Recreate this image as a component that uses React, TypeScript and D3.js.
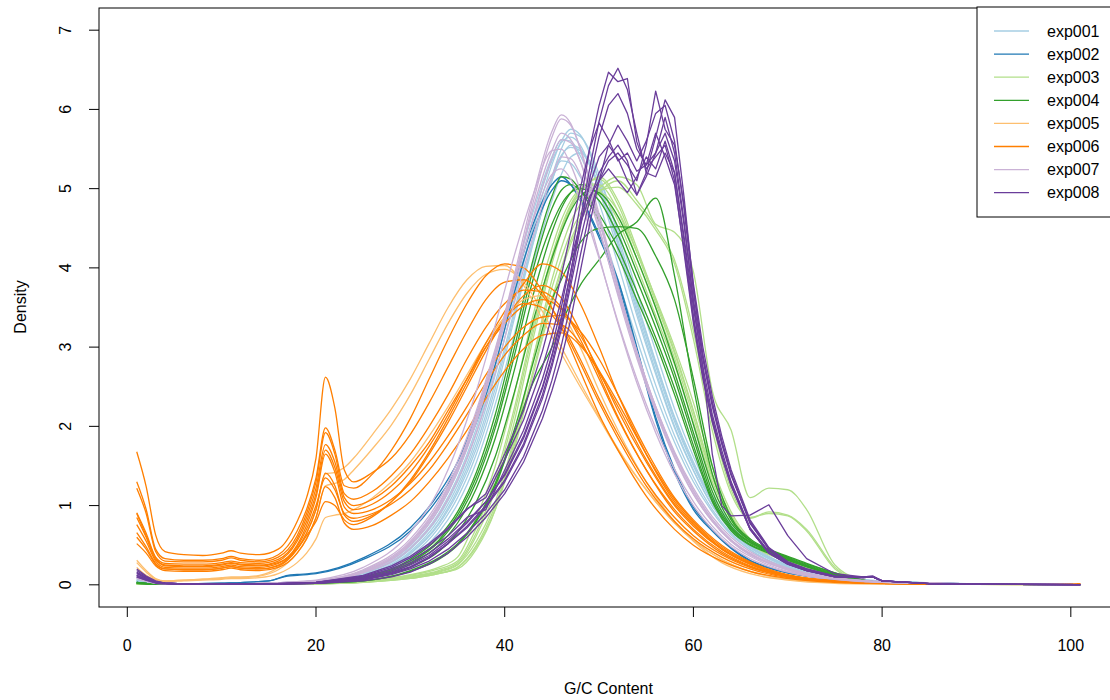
import React from "react";
import * as d3 from "d3";

// ---------- data ----------
const expNames = ["exp001", "exp002", "exp003", "exp004", "exp005", "exp006", "exp007", "exp008"];
const expColors = ["#A6CEE3", "#1F78B4", "#B2DF8A", "#33A02C", "#FDBF6F", "#FF7F00", "#CAB2D6", "#6A3D9A"];
const xTicks = [0, 20, 40, 60, 80, 100];
const yTicks = [0, 1, 2, 3, 4, 5, 6, 7];

// G/C grid for the smooth experiments (001, 002, 003, 004, 007)
const gcSmooth = [1, 3, 5, 10, 15, 17, 18, 20, 25, 30, 33, 35, 37, 39, 41, 43, 45, 46, 47, 48, 49, 50, 52, 54, 56, 58, 60, 62, 64, 66, 68, 70, 72, 75, 78, 80, 85, 90, 101];
// G/C grid for the orange experiments (005, 006)
const gcOrange = [1, 2, 3, 4, 6, 8, 10, 11, 12, 14, 16, 18, 19, 20, 21, 22, 23, 24, 26, 28, 30, 32, 34, 36, 38, 40, 42, 44, 46, 48, 50, 52, 55, 58, 60, 63, 66, 70, 75, 80, 90, 101];
// G/C grid for exp008
const gcPurple = [1, 2, 3, 4, 6, 10, 15, 20, 25, 28, 30, 32, 34, 36, 38, 40, 42, 44, 45, 46, 47, 48, 49, 50, 51, 52, 53, 54, 55, 56, 57, 58, 59, 60, 61, 62, 63, 64, 66, 68, 70, 72, 75, 78, 79, 80, 85, 90, 101];

const exp001 = [
  [0.06,0.02,0.01,0.01,0.02, 0.025,0.03,0.04,0.13,0.42, 0.82,1.25,1.85,2.65,3.60, 4.50,5.30,5.60,5.75,5.68, 5.45,5.10,4.30,3.45,2.70, 2.00,1.45,1.00,0.68,0.47, 0.33,0.23,0.16,0.10,0.06, 0.045,0.025,0.012,0.004],
  [0.05,0.02,0.01,0.01,0.015, 0.02,0.025,0.035,0.11,0.36, 0.72,1.10,1.65,2.40,3.35, 4.30,5.15,5.50,5.70,5.66, 5.48,5.18,4.42,3.58,2.82, 2.12,1.55,1.08,0.74,0.50, 0.35,0.25,0.17,0.10,0.06, 0.045,0.025,0.012,0.004],
  [0.07,0.02,0.01,0.01,0.02, 0.03,0.035,0.05,0.16,0.50, 0.95,1.42,2.08,2.92,3.85, 4.70,5.40,5.62,5.60,5.42, 5.15,4.82,4.05,3.25,2.52, 1.88,1.36,0.95,0.65,0.45, 0.31,0.22,0.15,0.09,0.055, 0.04,0.02,0.01,0.004],
  [0.05,0.02,0.01,0.01,0.02, 0.025,0.03,0.04,0.12,0.40, 0.78,1.20,1.78,2.55,3.45, 4.35,5.10,5.40,5.55,5.50, 5.32,5.05,4.35,3.55,2.80, 2.10,1.52,1.06,0.72,0.49, 0.34,0.24,0.17,0.10,0.06, 0.045,0.025,0.012,0.004],
  [0.04,0.015,0.01,0.01,0.015, 0.02,0.025,0.03,0.10,0.33, 0.66,1.02,1.55,2.28,3.15, 4.05,4.85,5.18,5.40,5.45, 5.35,5.12,4.48,3.70,2.95, 2.22,1.62,1.13,0.77,0.52, 0.36,0.25,0.18,0.11,0.065, 0.05,0.028,0.013,0.004],
  [0.06,0.02,0.01,0.01,0.02, 0.03,0.035,0.05,0.15,0.47, 0.90,1.35,1.98,2.78,3.68, 4.50,5.15,5.35,5.32,5.15, 4.90,4.58,3.85,3.10,2.40, 1.80,1.30,0.92,0.63,0.44, 0.30,0.21,0.15,0.09,0.055, 0.04,0.02,0.01,0.004],
  [0.06,0.02,0.01,0.01,0.02, 0.025,0.03,0.045,0.14,0.45, 0.86,1.30,1.92,2.75,3.72, 4.62,5.35,5.58,5.65,5.55, 5.30,4.98,4.22,3.40,2.66, 1.98,1.44,1.00,0.69,0.47, 0.33,0.23,0.16,0.10,0.06, 0.045,0.025,0.012,0.004],
  [0.05,0.02,0.01,0.01,0.02, 0.025,0.03,0.04,0.12,0.39, 0.76,1.16,1.72,2.48,3.40, 4.32,5.10,5.42,5.52,5.48, 5.30,5.02,4.30,3.50,2.76, 2.06,1.50,1.04,0.71,0.48, 0.34,0.24,0.17,0.10,0.06, 0.045,0.025,0.012,0.004],
];

const exp002 = [
  [0.03,0.01,0.01,0.02,0.05, 0.12,0.13,0.15,0.34,0.72, 1.15,1.55,2.15,2.90,3.80, 4.55,5.05,5.15,5.05,4.85, 4.65,4.38,3.80,2.95,2.08, 1.42,0.95,0.68,0.46,0.30, 0.21,0.15,0.11,0.07,0.045, 0.035,0.02,0.01,0.003],
  [0.03,0.01,0.01,0.02,0.05, 0.11,0.12,0.14,0.32,0.68, 1.10,1.48,2.05,2.78,3.68, 4.45,4.98,5.10,5.05,4.88, 4.68,4.42,3.85,3.00,2.12, 1.46,0.98,0.70,0.47,0.31, 0.22,0.15,0.11,0.07,0.045, 0.035,0.02,0.01,0.003],
];

const exp003 = [
  [0.01,0.005,0.005,0.005,0.01, 0.01,0.01,0.015,0.04,0.10, 0.17,0.26,0.62,1.20,2.05, 3.10,4.05,4.45,4.75,4.95, 5.08,5.15,4.85,4.25,3.60, 2.95,2.20,1.40,0.88,0.55, 0.40,0.32,0.22,0.10,0.04, 0.025,0.012,0.006,0.002],
  [0.01,0.005,0.005,0.005,0.01, 0.01,0.012,0.018,0.05,0.13, 0.22,0.35,0.85,1.50,2.40, 3.40,4.25,4.60,4.85,5.00, 5.05,4.98,4.60,4.02,3.40, 2.78,2.05,1.30,0.82,0.52, 0.38,0.30,0.21,0.09,0.04, 0.02,0.01,0.005,0.002],
  [0.01,0.005,0.005,0.005,0.01, 0.01,0.01,0.012,0.03,0.08, 0.14,0.22,0.50,1.00,1.75, 2.70,3.60,4.00,4.35,4.62, 4.85,5.00,5.15,5.05,4.55, 4.45,3.95,2.45,1.95,1.10, 1.22,1.20,0.95,0.25,0.06, 0.03,0.012,0.006,0.002],
  [0.01,0.005,0.005,0.005,0.01, 0.01,0.01,0.012,0.03,0.08, 0.14,0.22,0.48,0.95,1.70, 2.65,3.55,3.95,4.30,4.58, 4.80,4.95,5.10,4.85,4.52, 4.10,3.20,2.05,1.20,0.85, 0.90,0.87,0.68,0.20,0.05, 0.03,0.012,0.006,0.002],
  [0.01,0.005,0.005,0.005,0.01, 0.01,0.01,0.012,0.035,0.09, 0.16,0.25,0.55,1.05,1.85, 2.85,3.75,4.12,4.45,4.68, 4.85,4.98,5.02,4.80,4.48, 4.05,3.10,1.95,1.15,0.84, 0.92,0.88,0.70,0.22,0.05, 0.03,0.012,0.006,0.002],
  [0.01,0.005,0.005,0.005,0.01, 0.01,0.01,0.012,0.035,0.09, 0.15,0.20,0.45,0.95,1.80, 2.85,3.85,4.25,4.58,4.80, 4.92,4.95,4.72,4.20,3.62, 3.00,2.30,1.50,0.92,0.58, 0.42,0.33,0.23,0.10,0.04, 0.025,0.012,0.006,0.002],
  [0.01,0.005,0.005,0.005,0.01, 0.01,0.012,0.018,0.05,0.12, 0.20,0.30,0.72,1.35,2.22, 3.25,4.15,4.52,4.80,4.98, 5.06,5.05,4.72,4.12,3.50, 2.86,2.12,1.35,0.85,0.54, 0.39,0.31,0.21,0.09,0.04, 0.02,0.01,0.005,0.002],
  [0.01,0.005,0.005,0.005,0.01, 0.01,0.01,0.015,0.04,0.11, 0.18,0.28,0.66,1.28,2.15, 3.18,4.10,4.48,4.78,4.96, 5.10,5.12,4.80,4.20,3.56, 2.92,2.18,1.38,0.87,0.55, 0.40,0.32,0.22,0.10,0.04, 0.025,0.012,0.006,0.002],
];

const exp004 = [
  [0.03,0.01,0.01,0.01,0.015, 0.02,0.02,0.03,0.10,0.32, 0.60,0.92,1.42,2.15,3.10, 4.10,4.90,5.15,5.12,4.98, 4.80,4.60,4.15,3.60,3.05, 2.40,1.70,1.05,0.68,0.50, 0.40,0.31,0.23,0.12,0.05, 0.03,0.015,0.008,0.003],
  [0.02,0.01,0.01,0.01,0.01, 0.015,0.02,0.025,0.08,0.26, 0.50,0.78,1.22,1.85,2.70, 3.65,4.45,4.75,4.95,5.05, 5.02,4.92,4.52,3.95,3.35, 2.68,1.92,1.18,0.74,0.54, 0.43,0.33,0.24,0.13,0.05, 0.03,0.015,0.008,0.003],
  [0.02,0.01,0.01,0.01,0.01, 0.015,0.02,0.025,0.07,0.22, 0.42,0.66,1.05,1.62,2.42, 3.32,4.12,4.45,4.72,4.90, 4.98,4.95,4.65,4.12,3.50, 2.80,2.02,1.25,0.78,0.56, 0.44,0.34,0.25,0.14,0.055, 0.03,0.015,0.008,0.003],
  [0.03,0.01,0.01,0.01,0.015, 0.02,0.02,0.03,0.09,0.28, 0.54,0.84,1.30,1.98,2.88, 3.85,4.55,4.80,4.95,5.00, 4.96,4.85,4.42,3.85,3.25, 2.60,1.85,1.12,0.72,0.53, 0.42,0.32,0.24,0.13,0.05, 0.03,0.015,0.008,0.003],
  [0.02,0.01,0.01,0.01,0.01, 0.01,0.015,0.02,0.05,0.17, 0.32,0.50,0.80,1.25,1.90, 2.55,3.00,3.30,3.55,3.78, 3.95,4.10,4.42,4.58,4.88, 3.90,2.50,1.40,0.82,0.56, 0.44,0.35,0.26,0.15,0.06, 0.03,0.015,0.008,0.003],
  [0.02,0.01,0.01,0.01,0.01, 0.01,0.015,0.02,0.05,0.18, 0.34,0.52,0.82,1.28,1.95, 2.80,3.60,3.85,4.10,4.32, 4.45,4.50,4.52,4.50,4.15, 3.60,2.60,1.50,0.85,0.58, 0.45,0.36,0.27,0.15,0.06, 0.03,0.015,0.008,0.003],
  [0.03,0.01,0.01,0.01,0.015, 0.02,0.02,0.03,0.09,0.30, 0.56,0.88,1.36,2.05,2.98, 3.98,4.75,4.98,5.05,4.98, 4.85,4.68,4.25,3.70,3.12, 2.48,1.76,1.08,0.70,0.51, 0.41,0.31,0.23,0.12,0.05, 0.03,0.015,0.008,0.003],
];

const exp005 = [
  [0.31,0.18,0.08,0.05,0.06, 0.07,0.09,0.10,0.10,0.12, 0.22,0.45,0.65,0.95,1.40, 1.42,1.48,1.60,1.90,2.22, 2.60,3.05,3.50,3.85,4.02, 4.03,3.78,3.35,2.92,2.50, 2.10,1.70,1.20,0.78,0.56, 0.32,0.17,0.07,0.03,0.015, 0.01,0.005],
  [0.28,0.16,0.07,0.05,0.06, 0.07,0.08,0.09,0.09,0.11, 0.19,0.40,0.58,0.85,1.25, 1.28,1.33,1.45,1.72,2.02, 2.40,2.85,3.30,3.68,3.92, 3.98,3.82,3.45,3.00,2.55, 2.12,1.72,1.20,0.78,0.56, 0.32,0.17,0.07,0.03,0.015, 0.01,0.005],
  [0.22,0.12,0.06,0.04,0.05, 0.06,0.07,0.08,0.08,0.09, 0.14,0.28,0.40,0.58,0.85, 0.88,0.90,0.95,1.10,1.30, 1.55,1.88,2.25,2.65,3.05, 3.38,3.60,3.65,3.45,3.00, 2.45,1.95,1.30,0.80,0.55, 0.28,0.14,0.06,0.02,0.01, 0.005,0.003],
];

const exp006 = [
  [1.68,1.24,0.63,0.42,0.38, 0.37,0.40,0.43,0.40,0.38, 0.45,0.80,1.10,1.60,2.62, 2.23,1.45,1.30,1.42,1.60, 1.90,2.30,2.75,3.20,3.60, 3.82,3.85,3.65,3.30,2.85, 2.35,1.90,1.30,0.85,0.62, 0.38,0.22,0.10,0.04,0.02, 0.01,0.005],
  [1.30,0.95,0.45,0.33,0.31, 0.31,0.33,0.36,0.33,0.31, 0.38,0.68,0.95,1.35,1.98, 1.70,1.25,1.22,1.40,1.70, 2.10,2.60,3.10,3.55,3.90, 4.05,4.00,3.70,3.25,2.70, 2.15,1.70,1.12,0.70,0.50, 0.30,0.17,0.08,0.03,0.015, 0.01,0.005],
  [1.22,0.90,0.42,0.30,0.29, 0.29,0.31,0.34,0.31,0.29, 0.35,0.62,0.90,1.30,1.92, 1.65,1.15,1.08,1.18,1.38, 1.65,2.00,2.40,2.85,3.25, 3.55,3.72,3.70,3.50,3.10, 2.60,2.10,1.45,0.95,0.70, 0.42,0.24,0.11,0.04,0.02, 0.01,0.005],
  [0.91,0.65,0.35,0.27,0.26, 0.26,0.28,0.30,0.28,0.27, 0.32,0.58,0.85,1.22,1.77, 1.55,1.10,1.00,1.08,1.25, 1.50,1.80,2.20,2.60,3.00, 3.30,3.52,3.60,3.48,3.15, 2.70,2.20,1.55,1.00,0.74, 0.45,0.26,0.12,0.05,0.02, 0.01,0.005],
  [0.85,0.60,0.32,0.25,0.24, 0.24,0.26,0.28,0.26,0.25, 0.30,0.55,0.80,1.15,1.70, 1.48,1.05,0.95,1.02,1.18, 1.42,1.75,2.15,2.60,3.05, 3.45,3.80,4.05,3.95,3.55, 3.00,2.40,1.65,1.05,0.78, 0.46,0.27,0.12,0.05,0.02, 0.01,0.005],
  [0.76,0.55,0.30,0.22,0.21, 0.21,0.23,0.25,0.23,0.22, 0.27,0.50,0.75,1.10,1.65, 1.42,0.98,0.90,0.95,1.08, 1.28,1.55,1.88,2.25,2.65, 3.00,3.25,3.38,3.40,3.20, 2.85,2.40,1.70,1.10,0.82, 0.50,0.29,0.13,0.05,0.02, 0.01,0.005],
  [0.66,0.48,0.27,0.20,0.19, 0.19,0.21,0.23,0.21,0.20, 0.24,0.45,0.65,0.95,1.41, 1.25,0.88,0.80,0.88,1.05, 1.30,1.65,2.05,2.50,2.95, 3.35,3.65,3.78,3.62,3.20, 2.65,2.12,1.45,0.92,0.68, 0.40,0.23,0.10,0.04,0.02, 0.01,0.005],
  [0.52,0.40,0.24,0.18,0.17, 0.17,0.19,0.21,0.19,0.18, 0.22,0.40,0.58,0.85,1.24, 1.10,0.78,0.70,0.75,0.88, 1.05,1.30,1.60,1.95,2.35, 2.70,2.98,3.15,3.18,3.02, 2.70,2.30,1.65,1.08,0.80, 0.48,0.28,0.12,0.05,0.02, 0.01,0.005],
  [0.90,0.62,0.34,0.24,0.23, 0.23,0.25,0.27,0.25,0.24, 0.28,0.45,0.62,0.80,1.05, 1.00,0.82,0.76,0.86,1.05, 1.32,1.68,2.10,2.55,3.00, 3.35,3.55,3.50,3.25,2.80, 2.30,1.85,1.25,0.80,0.58, 0.35,0.20,0.09,0.04,0.02, 0.01,0.005],
  [0.60,0.45,0.26,0.20,0.19, 0.19,0.21,0.23,0.21,0.20, 0.25,0.48,0.70,1.00,1.35, 1.20,0.90,0.84,0.90,1.02, 1.20,1.45,1.78,2.15,2.55, 2.90,3.15,3.30,3.28,3.05, 2.68,2.25,1.58,1.02,0.76, 0.45,0.26,0.11,0.05,0.02, 0.01,0.005],
];

const exp007 = [
  [0.10,0.03,0.01,0.01,0.02, 0.03,0.035,0.05,0.18,0.55, 1.02,1.50,2.15,2.95,3.90, 4.90,5.72,5.93,5.82,5.50, 5.08,4.62,3.72,2.90,2.20, 1.62,1.15,0.80,0.55,0.38, 0.27,0.19,0.13,0.08,0.05, 0.035,0.02,0.01,0.003],
  [0.09,0.03,0.01,0.01,0.02, 0.03,0.035,0.05,0.17,0.52, 0.98,1.45,2.08,2.88,3.82, 4.82,5.65,5.88,5.80,5.52, 5.12,4.68,3.78,2.95,2.24, 1.65,1.18,0.82,0.56,0.39, 0.28,0.19,0.13,0.08,0.05, 0.035,0.02,0.01,0.003],
  [0.08,0.02,0.01,0.01,0.02, 0.025,0.03,0.045,0.16,0.50, 0.95,1.42,2.05,2.85,3.75, 4.62,5.38,5.62,5.58,5.35, 5.00,4.60,3.75,2.95,2.25, 1.66,1.19,0.83,0.57,0.40, 0.28,0.20,0.14,0.08,0.05, 0.035,0.02,0.01,0.003],
  [0.12,0.03,0.01,0.01,0.02, 0.03,0.04,0.06,0.22,0.66, 1.20,1.75,2.45,3.28,4.15, 4.92,5.48,5.50,5.30,4.98, 4.58,4.15,3.30,2.55,1.92, 1.40,1.00,0.70,0.48,0.33, 0.23,0.16,0.11,0.07,0.04, 0.03,0.018,0.01,0.003],
  [0.08,0.02,0.01,0.01,0.02, 0.025,0.03,0.045,0.15,0.46, 0.88,1.32,1.92,2.68,3.55, 4.40,5.15,5.40,5.38,5.18, 4.86,4.48,3.68,2.92,2.25, 1.68,1.22,0.86,0.60,0.42, 0.30,0.21,0.15,0.09,0.055, 0.04,0.02,0.01,0.003],
  [0.10,0.03,0.01,0.01,0.02, 0.03,0.035,0.05,0.19,0.58, 1.06,1.56,2.20,2.98,3.82, 4.60,5.18,5.25,5.12,4.85, 4.50,4.12,3.32,2.60,1.98, 1.46,1.05,0.74,0.51,0.36, 0.25,0.17,0.12,0.07,0.045, 0.03,0.018,0.01,0.003],
  [0.09,0.03,0.01,0.01,0.02, 0.03,0.035,0.05,0.17,0.53, 1.00,1.48,2.12,2.92,3.85, 4.75,5.48,5.70,5.62,5.35, 4.96,4.52,3.65,2.86,2.18, 1.60,1.14,0.80,0.55,0.38, 0.27,0.19,0.13,0.08,0.05, 0.035,0.02,0.01,0.003],
];

const exp008 = [
  [0.18,0.10,0.04,0.02,0.01, 0.01,0.01,0.03,0.10,0.20, 0.30,0.45,0.62,0.85,0.95, 1.45,1.95,2.60,3.00,3.50, 4.10,4.80,5.50,6.05,6.47, 6.35,6.39,5.59,5.25,5.40, 5.55,5.10,4.20,3.30,2.60, 2.05,1.62,1.25,0.70,0.40, 0.26,0.18,0.10,0.09,0.10, 0.05,0.015,0.008,0.003],
  [0.15,0.08,0.03,0.02,0.01, 0.01,0.01,0.03,0.09,0.18, 0.27,0.40,0.58,0.80,1.05, 1.38,1.85,2.48,2.88,3.35, 3.95,4.60,5.25,5.85,6.30, 6.52,6.25,5.70,5.20,5.15, 5.45,5.20,4.40,3.50,2.75, 2.15,1.70,1.30,0.72,0.42, 0.27,0.18,0.10,0.09,0.10, 0.05,0.015,0.008,0.003],
  [0.12,0.07,0.03,0.02,0.01, 0.01,0.01,0.02,0.07,0.15, 0.23,0.35,0.52,0.74,1.00, 1.32,1.78,2.40,2.80,3.28, 3.85,4.50,5.12,5.65,6.05, 6.20,5.95,5.50,5.30,5.45, 5.70,5.35,4.55,3.60,2.85, 2.25,1.78,1.38,0.78,0.45, 0.28,0.19,0.11,0.10,0.10, 0.05,0.015,0.008,0.003],
  [0.10,0.06,0.03,0.02,0.01, 0.01,0.01,0.02,0.06,0.13, 0.20,0.30,0.45,0.65,0.90, 1.20,1.62,2.20,2.58,3.02, 3.55,4.15,4.70,5.10,5.35, 5.45,5.30,5.10,5.55,6.23, 5.75,5.55,4.80,3.80,3.00, 2.38,1.88,1.45,0.82,0.47, 0.29,0.20,0.11,0.10,0.11, 0.05,0.015,0.008,0.003],
  [0.14,0.08,0.03,0.02,0.01, 0.01,0.01,0.02,0.08,0.16, 0.25,0.37,0.55,0.78,1.05, 1.40,1.88,2.50,2.90,3.38, 3.95,4.55,5.05,5.40,5.55, 5.38,5.10,4.92,5.20,5.65, 6.12,5.90,4.90,3.75,2.90, 2.30,1.82,1.40,0.78,0.45, 0.28,0.19,0.11,0.10,0.10, 0.05,0.015,0.008,0.003],
  [0.16,0.09,0.04,0.02,0.01, 0.01,0.01,0.03,0.11,0.22, 0.34,0.50,0.70,0.95,1.15, 1.65,2.20,2.95,3.40,3.90, 4.45,5.00,5.50,5.83,5.62, 5.35,5.45,5.22,5.30,5.70, 5.40,5.05,4.25,3.35,2.65, 2.10,1.65,1.28,0.70,0.40, 0.26,0.18,0.10,0.09,0.10, 0.05,0.015,0.008,0.003],
  [0.12,0.07,0.03,0.02,0.01, 0.01,0.01,0.02,0.07,0.14, 0.22,0.34,0.52,0.72,0.98, 1.30,1.75,2.35,2.75,3.22, 3.78,4.35,4.85,5.20,5.40, 5.55,5.35,4.92,5.15,5.45, 5.90,5.45,4.60,3.55,2.75, 1.65,1.00,0.87,0.88,1.01, 0.62,0.33,0.14,0.10,0.10, 0.05,0.015,0.008,0.003],
  [0.10,0.06,0.02,0.01,0.01, 0.01,0.01,0.02,0.05,0.10, 0.16,0.26,0.40,0.60,0.85, 1.15,1.55,2.10,2.45,2.85, 3.35,3.95,4.55,5.10,5.55, 5.80,5.60,5.35,5.60,5.95, 6.05,5.60,4.75,3.70,2.90, 2.30,1.80,1.40,0.80,0.46, 0.29,0.20,0.11,0.10,0.11, 0.05,0.015,0.008,0.003],
  [0.20,0.11,0.05,0.02,0.01, 0.01,0.01,0.03,0.12,0.24, 0.36,0.52,0.72,0.96,1.10, 1.58,2.08,2.75,3.15,3.60, 4.10,4.55,4.90,5.10,5.25, 5.10,4.95,5.15,5.40,5.25, 5.60,5.20,4.35,3.40,2.65, 2.08,1.62,1.25,0.70,0.40, 0.26,0.18,0.10,0.09,0.10, 0.05,0.015,0.008,0.003],
];

// ---------- chart ----------
const W = 1110;
const H = 700;
const FONT = "'Liberation Sans', Arial, Helvetica, sans-serif";

const x = d3.scaleLinear().domain([-3, 105]).range([99, 1118]);
const y = d3.scaleLinear().domain([-0.28, 7.28]).range([607, 8]);

const groups = [
  { gc: gcSmooth, lines: exp001, linear: false },
  { gc: gcSmooth, lines: exp002, linear: false },
  { gc: gcSmooth, lines: exp003, linear: false },
  { gc: gcSmooth, lines: exp004, linear: false },
  { gc: gcOrange, lines: exp005, linear: false },
  { gc: gcOrange, lines: exp006, linear: false },
  { gc: gcSmooth, lines: exp007, linear: false },
  { gc: gcPurple, lines: exp008, linear: true },
];

export default function App() {
  const paths: React.ReactNode[] = [];
  groups.forEach((g, gi) => {
    const gen = d3
      .line<[number, number]>()
      .x((d) => x(d[0]))
      .y((d) => y(d[1]))
      .curve(g.linear ? d3.curveLinear : d3.curveMonotoneX);
    g.lines.forEach((vals, li) => {
      const pts: [number, number][] = g.gc.map((gcv, i) => [gcv, vals[i]] as [number, number]).filter((p) => p[1] !== undefined);
      paths.push(
        <path
          key={`${gi}-${li}`}
          d={gen(pts) || ""}
          fill="none"
          stroke={expColors[gi]}
          strokeWidth={1.3}
          strokeLinejoin="round"
        />
      );
    });
  });

  const legendX = 977;
  const legendY = 7;
  const rowY = (i: number) => 31 + i * 23.1;

  return (
    <svg
      width={W}
      height={H}
      style={{ position: "absolute", left: 0, top: 0, background: "#fff" }}
      fontFamily={FONT}
    >
      <rect x={0} y={0} width={W} height={H} fill="#fff" />
      <defs>
        <clipPath id="plotClip">
          <rect x={99} y={8} width={1019} height={599} />
        </clipPath>
      </defs>
      <g clipPath="url(#plotClip)">{paths}</g>

      {/* box */}
      <rect x={99} y={8} width={1019} height={599} fill="none" stroke="#000" strokeWidth={1} />

      {/* x axis */}
      {xTicks.map((t) => (
        <g key={`xt${t}`}>
          <line x1={x(t)} x2={x(t)} y1={607} y2={617} stroke="#000" strokeWidth={1} />
          <text x={x(t)} y={645} fontSize={16} textAnchor="middle" dominantBaseline="central" fill="#000">
            {t}
          </text>
        </g>
      ))}
      {/* y axis */}
      {yTicks.map((t) => (
        <g key={`yt${t}`}>
          <line x1={89} x2={99} y1={y(t)} y2={y(t)} stroke="#000" strokeWidth={1} />
          <text
            x={66}
            y={y(t)}
            fontSize={16}
            textAnchor="middle"
            dominantBaseline="central"
            transform={`rotate(-90, 66, ${y(t)})`}
            fill="#000"
          >
            {t}
          </text>
        </g>
      ))}

      <text x={608.5} y={688} fontSize={16} textAnchor="middle" dominantBaseline="central" fill="#000">
        G/C Content
      </text>
      <text
        x={20}
        y={307}
        fontSize={16}
        textAnchor="middle"
        dominantBaseline="central"
        transform="rotate(-90, 20, 307)"
        fill="#000"
      >
        Density
      </text>

      {/* legend */}
      <rect x={legendX} y={legendY} width={141} height={210} fill="#fff" stroke="#000" strokeWidth={1} />
      {expNames.map((n, i) => (
        <g key={n}>
          <line x1={994} x2={1029} y1={rowY(i)} y2={rowY(i)} stroke={expColors[i]} strokeWidth={1.3} />
          <text x={1047} y={rowY(i)} fontSize={16} dominantBaseline="central" fill="#000">
            {n}
          </text>
        </g>
      ))}
    </svg>
  );
}
